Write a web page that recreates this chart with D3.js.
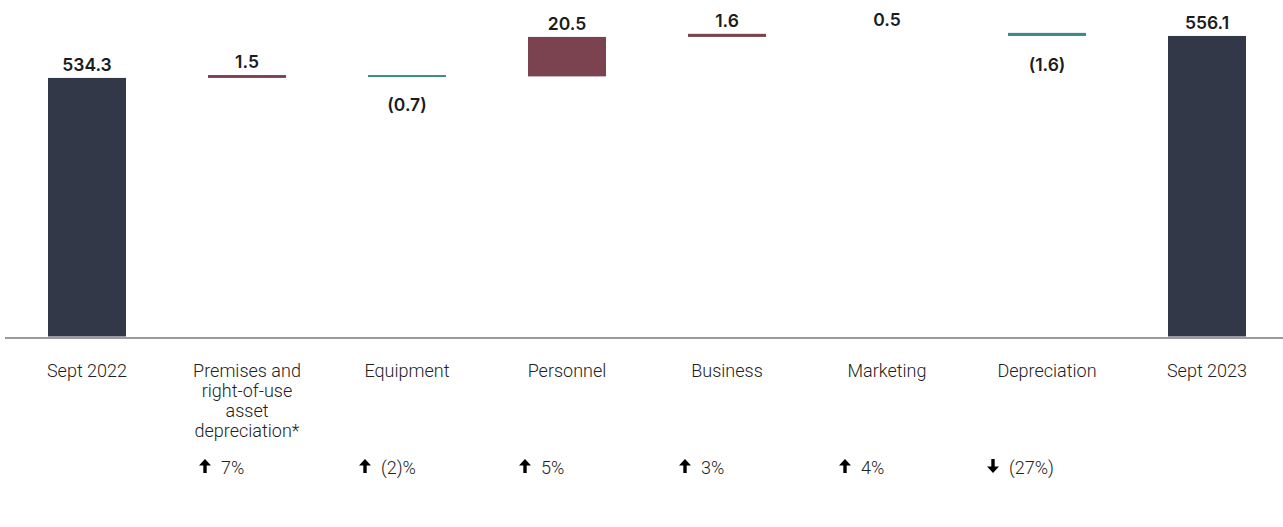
<!DOCTYPE html>
<html>
<head>
<meta charset="utf-8">
<script src="https://cdn.jsdelivr.net/npm/d3@7"></script>
<style>
  html, body { margin: 0; padding: 0; background: #fff; }
  svg { display: block; }
</style>
</head>
<body>
<div id="chart"></div>
<script>
(function(){
    var width = 1283;
    var height = 527;

    // data
    var categories = ["Sept 2022", "Premises and\nright-of-use\nasset\ndepreciation*", "Equipment",
        "Personnel", "Business", "Marketing", "Depreciation", "Sept 2023"];
    var values = [534.3, 1.5, -0.7, 20.5, 1.6, 0.5, -1.6, 556.1];
    var isTotal = [true, false, false, false, false, false, false, true];
    var valueLabels = ["534.3", "1.5", "(0.7)", "20.5", "1.6", "0.5", "(1.6)", "556.1"];
    var changeLabels = [null, "7%", "(2)%", "5%", "3%", "4%", "(27%)", null];
    var changeDir = [null, "up", "up", "up", "up", "up", "down", null];

    var navy = "#333849";
    var maroon = "#7b4350";
    var teal = "#3b8b8c";

    // running totals for the waterfall
    var running = 0;
    var rows = categories.map(function(c, i){
        var v = values[i];
        var start, end;
        if (isTotal[i]) {
            start = 400; end = v; running = v;
        } else {
            start = running; end = running + v; running = end;
        }
        return {cat: c, i: i, start: start, end: end, v: v,
            label: valueLabels[i], change: changeLabels[i], dir: changeDir[i]};
    });

    var x = d3.scaleBand()
        .domain(d3.range(categories.length))
        .range([7, 1287])
        .paddingInner(0.5125)
        .paddingOuter(0.25625);

    var y = d3.scaleLinear()
        .domain([400, 574])
        .range([336.5, 1.5]);

    var svg = d3.select("#chart")
        .append("svg")
        .attr("width", width)
        .attr("height", height);

    function fillOf(d){
        if (isTotal[d.i]) return navy;
        return d.v >= 0 ? maroon : teal;
    }

    // bars thinner than a pixel are not drawn (as in the source slide)
    svg.selectAll(".bar")
        .data(rows.filter(function(d){ return Math.abs(y(d.start) - y(d.end)) >= 1; }))
        .enter().append("rect")
        .attr("class", "bar")
        .attr("x", function(d){ return x(d.i); })
        .attr("width", x.bandwidth())
        .attr("y", function(d){ return y(Math.max(d.start, d.end)); })
        .attr("height", function(d){
            return Math.max(2, Math.abs(y(d.start) - y(d.end)));
        })
        .attr("fill", fillOf);

    // baseline
    svg.append("line")
        .attr("x1", 5)
        .attr("x2", width)
        .attr("y1", 338)
        .attr("y2", 338)
        .attr("stroke", "#9a9a9a")
        .attr("stroke-width", 2);

    // value labels
    svg.selectAll(".value-label")
        .data(rows)
        .enter().append("text")
        .attr("class", "value-label")
        .attr("x", function(d){ return x(d.i) + x.bandwidth() / 2; })
        .attr("y", function(d){
            if (d.v < 0) return y(Math.min(d.start, d.end)) + 35;
            return y(Math.max(d.start, d.end)) - 7;
        })
        .attr("text-anchor", "middle")
        .attr("font-family", "Inter, 'Noto Sans', sans-serif")
        .attr("font-weight", 600)
        .attr("font-size", "17.5px")
        .attr("fill", "#1b1b22")
        .text(function(d){ return d.label; });

    // category labels
    var catText = svg.selectAll(".cat-label")
        .data(rows)
        .enter().append("text")
        .attr("class", "cat-label")
        .attr("text-anchor", "middle")
        .attr("font-family", "Roboto, sans-serif")
        .attr("font-weight", 300)
        .attr("font-size", "18px")
        .attr("fill", "#222");

    catText.each(function(d){
        var lines = d.cat.split("\n");
        var cx = x(d.i) + x.bandwidth() / 2;
        d3.select(this).selectAll("tspan")
            .data(lines)
            .enter().append("tspan")
            .attr("x", cx)
            .attr("y", function(l, k){ return 377 + k * 20; })
            .text(function(l){ return l; });
    });

    // change row with arrows
    var changes = svg.selectAll(".change")
        .data(rows.filter(function(d){ return d.change; }))
        .enter().append("g")
        .attr("class", "change")
        .attr("transform", function(d){
            return "translate(" + (x(d.i) + x.bandwidth() / 2) + ",0)";
        });

    changes.append("path")
        .attr("d", function(d){
            var ax = d.dir === "up" ? -42 : -54, top = 459, bot = 473;
            if (d.dir === "up") {
                return "M" + ax + "," + top + "L" + (ax + 6) + "," + (top + 6.5) +
                    "L" + (ax + 1.7) + "," + (top + 6.5) + "L" + (ax + 1.7) + "," + bot +
                    "L" + (ax - 1.7) + "," + bot + "L" + (ax - 1.7) + "," + (top + 6.5) +
                    "L" + (ax - 6) + "," + (top + 6.5) + "Z";
            }
            return "M" + ax + "," + bot + "L" + (ax + 6) + "," + (bot - 6.5) +
                "L" + (ax + 1.7) + "," + (bot - 6.5) + "L" + (ax + 1.7) + "," + top +
                "L" + (ax - 1.7) + "," + top + "L" + (ax - 1.7) + "," + (bot - 6.5) +
                "L" + (ax - 6) + "," + (bot - 6.5) + "Z";
        })
        .attr("fill", "#000");

    changes.append("text")
        .attr("x", function(d){ return d.dir === "up" ? -26 : -38; })
        .attr("y", 474)
        .attr("font-family", "Roboto, sans-serif")
        .attr("font-weight", 300)
        .attr("font-size", "18px")
        .attr("fill", "#222")
        .text(function(d){ return d.change; });
})();
</script>
</body>
</html>
